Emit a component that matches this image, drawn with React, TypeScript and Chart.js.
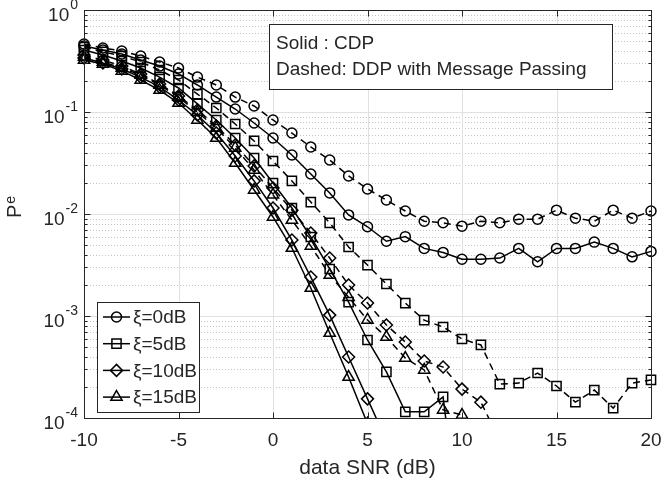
import React, { useEffect, useRef } from "react";
import { Chart, registerables } from "chart.js";

Chart.register(...registerables);

// ---------- data ----------
const snr = [-10, -9, -8, -7, -6, -5, -4, -3, -2, -1, 0, 1, 2, 3, 4, 5, 6, 7, 8, 9, 10, 11, 12, 13, 14, 15, 16, 17, 18, 19, 20];

const cdp0 = [0.444, 0.405, 0.37, 0.323, 0.282, 0.236, 0.184, 0.14, 0.107, 0.078, 0.0556, 0.0379, 0.0247, 0.0161, 0.0098, 0.0075, 0.0054, 0.006, 0.0046, 0.0042, 0.0036, 0.0036, 0.0037, 0.0046, 0.0034, 0.0046, 0.0046, 0.0053, 0.0046, 0.0038, 0.0043];
const ddp0 = [0.464, 0.424, 0.396, 0.354, 0.309, 0.27, 0.22, 0.184, 0.14, 0.1145, 0.0835, 0.0622, 0.0454, 0.0338, 0.0236, 0.0176, 0.0137, 0.0107, 0.0085, 0.0082, 0.0076, 0.0085, 0.0082, 0.0089, 0.0089, 0.0109, 0.0091, 0.0085, 0.0109, 0.0091, 0.0107];
const cdp5 = [0.405, 0.362, 0.316, 0.27, 0.22, 0.172, 0.12, 0.0835, 0.0556, 0.0354, 0.0201, 0.01145, 0.00595, 0.00289, 0.00137, 0.000582, 0.000283, 0.000115, 0.000115, 0.000161, 0.000005];
const ddp5 = [0.434, 0.388, 0.354, 0.309, 0.258, 0.206, 0.15, 0.1095, 0.0763, 0.052, 0.0331, 0.0211, 0.0131, 0.0082, 0.00475, 0.00316, 0.00206, 0.00134, 0.00091, 0.00078, 0.000595, 0.00052, 0.000215, 0.00022, 0.000276, 0.000206, 0.000143, 0.000188, 0.000125, 0.00022, 0.000236];
const cdp10 = [0.338, 0.302, 0.264, 0.22, 0.176, 0.131, 0.0935, 0.0622, 0.037, 0.0211, 0.01145, 0.00556, 0.00241, 0.00102, 0.000396, 0.000154, 0.00006];
const ddp10 = [0.362, 0.323, 0.282, 0.236, 0.188, 0.1435, 0.1046, 0.073, 0.0475, 0.0296, 0.018, 0.0109, 0.00651, 0.0037, 0.00201, 0.00134, 0.000816, 0.000556, 0.000362, 0.000316, 0.000192, 0.000143, 0.00006];
const cdp15 = [0.323, 0.296, 0.253, 0.206, 0.164, 0.1225, 0.0835, 0.0556, 0.0316, 0.0172, 0.00935, 0.00464, 0.00188, 0.000681, 0.000252, 0.000088];
const ddp15 = [0.346, 0.309, 0.27, 0.231, 0.184, 0.14, 0.1, 0.0697, 0.0444, 0.027, 0.0154, 0.00873, 0.00486, 0.00252, 0.00153, 0.000914, 0.000622, 0.000387, 0.000296, 0.00012, 0.000107];

const legendLabels = ["ξ=0dB", "ξ=5dB", "ξ=10dB", "ξ=15dB"];
const markerStyles = ["circle", "rect", "rectRot", "triangle"];
const markerRadii = [5, 6.5, 6, 6.5];
const noteLines = ["Solid : CDP", "Dashed: DDP with Message Passing"];
const xTickValues = [-10, -5, 0, 5, 10, 15, 20];
const yTickExponents = [0, -1, -2, -3, -4];
const yMinorMultipliers = [2, 3, 4, 5, 6, 7, 8, 9];
const xTitle = "data SNR (dB)";
const yTitleMain = "P";
const yTitleScript = "e";

// ---------- styling ----------
const FONT = '"Liberation Sans", Arial, Helvetica, sans-serif';
const AXIS_COLOR = "#262626";
const LINE_COLOR = "#000000";

function toPoints(ys: number[]) {
  return ys.map((y, i) => ({ x: snr[i], y }));
}

function makeDataset(label: string, ys: number[], idx: number, dashed: boolean) {
  return {
    label,
    data: toPoints(ys),
    borderColor: LINE_COLOR,
    borderWidth: 1.5,
    borderDash: dashed ? [7, 5] : [],
    pointStyle: markerStyles[idx],
    pointRadius: markerRadii[idx],
    pointBorderWidth: 1.5,
    pointBorderColor: LINE_COLOR,
    pointBackgroundColor: "rgba(0,0,0,0)",
    fill: false,
    tension: 0,
    clip: { left: 9, top: 9, right: 9, bottom: 0 },
  };
}

function drawMarker(ctx: CanvasRenderingContext2D, style: string, x: number, y: number, r: number) {
  ctx.beginPath();
  if (style === "circle") {
    ctx.arc(x, y, r, 0, Math.PI * 2);
  } else if (style === "rect") {
    const s = r * Math.SQRT1_2;
    ctx.rect(x - s, y - s, 2 * s, 2 * s);
  } else if (style === "rectRot") {
    ctx.moveTo(x, y - r);
    ctx.lineTo(x + r, y);
    ctx.lineTo(x, y + r);
    ctx.lineTo(x - r, y);
    ctx.closePath();
  } else if (style === "triangle") {
    let a = 0;
    ctx.moveTo(x + Math.sin(a) * r, y - Math.cos(a) * r);
    a += (2 * Math.PI) / 3;
    ctx.lineTo(x + Math.sin(a) * r, y - Math.cos(a) * r);
    a += (2 * Math.PI) / 3;
    ctx.lineTo(x + Math.sin(a) * r, y - Math.cos(a) * r);
    ctx.closePath();
  }
  ctx.stroke();
}

const matlabPlugin = {
  id: "matlabLook",
  beforeDraw(chart: any) {
    const ctx = chart.ctx;
    ctx.save();
    ctx.fillStyle = "#ffffff";
    ctx.fillRect(0, 0, chart.width, chart.height);
    ctx.restore();
  },
  beforeDatasetsDraw(chart: any) {
    const ctx: CanvasRenderingContext2D = chart.ctx;
    const { left, right, top, bottom } = chart.chartArea;
    const xs = chart.scales.x;
    const ys = chart.scales.y;
    ctx.save();
    // minor dotted horizontal grid
    ctx.strokeStyle = "#c4c4c4";
    ctx.lineWidth = 1;
    ctx.setLineDash([1, 2]);
    for (const e of yTickExponents) {
      if (e === 0) continue;
      for (const m of yMinorMultipliers) {
        const py = Math.round(ys.getPixelForValue(m * Math.pow(10, e))) + 0.5;
        ctx.beginPath();
        ctx.moveTo(left, py);
        ctx.lineTo(right, py);
        ctx.stroke();
      }
    }
    // major grid
    ctx.setLineDash([]);
    ctx.strokeStyle = "#e1e1e1";
    for (const e of yTickExponents) {
      const py = Math.round(ys.getPixelForValue(Math.pow(10, e))) + 0.5;
      ctx.beginPath();
      ctx.moveTo(left, py);
      ctx.lineTo(right, py);
      ctx.stroke();
    }
    for (const v of xTickValues) {
      const px = Math.round(xs.getPixelForValue(v)) + 0.5;
      ctx.beginPath();
      ctx.moveTo(px, top);
      ctx.lineTo(px, bottom);
      ctx.stroke();
    }
    ctx.restore();
  },
  afterDatasetsDraw(chart: any) {
    const ctx: CanvasRenderingContext2D = chart.ctx;
    const { left, right, top, bottom } = chart.chartArea;
    const xs = chart.scales.x;
    const ys = chart.scales.y;
    ctx.save();
    ctx.strokeStyle = AXIS_COLOR;
    ctx.lineWidth = 1;
    ctx.setLineDash([]);
    const L = Math.round(left) + 0.5;
    const R = Math.round(right) + 0.5;
    const T = Math.round(top) + 0.5;
    const B = Math.round(bottom) + 0.5;
    ctx.strokeRect(L, T, R - L, B - T);

    // tick marks
    ctx.beginPath();
    for (const v of xTickValues) {
      const px = Math.round(xs.getPixelForValue(v)) + 0.5;
      ctx.moveTo(px, B);
      ctx.lineTo(px, B - 6);
      ctx.moveTo(px, T);
      ctx.lineTo(px, T + 6);
    }
    for (const e of yTickExponents) {
      const py = Math.round(ys.getPixelForValue(Math.pow(10, e))) + 0.5;
      ctx.moveTo(L, py);
      ctx.lineTo(L + 6, py);
      ctx.moveTo(R, py);
      ctx.lineTo(R - 6, py);
      if (e === 0) continue;
      for (const m of yMinorMultipliers) {
        const pm = Math.round(ys.getPixelForValue(m * Math.pow(10, e))) + 0.5;
        ctx.moveTo(L, pm);
        ctx.lineTo(L + 3, pm);
        ctx.moveTo(R, pm);
        ctx.lineTo(R - 3, pm);
      }
    }
    ctx.stroke();

    // x tick labels
    ctx.fillStyle = AXIS_COLOR;
    ctx.font = `19px ${FONT}`;
    ctx.textAlign = "center";
    ctx.textBaseline = "alphabetic";
    for (const v of xTickValues) {
      const px = xs.getPixelForValue(v);
      ctx.fillText(String(v), px, bottom + 28);
    }

    // y tick labels 10^e
    for (const e of yTickExponents) {
      const py = ys.getPixelForValue(Math.pow(10, e));
      const expText = String(e);
      ctx.font = `14px ${FONT}`;
      ctx.textAlign = "right";
      const expW = ctx.measureText(expText).width;
      const expRight = left - 6;
      ctx.fillText(expText, expRight, py - 1);
      ctx.font = `19px ${FONT}`;
      ctx.fillText("10", expRight - expW - 1, py + 11);
    }

    // x title
    ctx.font = `21px ${FONT}`;
    ctx.textAlign = "center";
    ctx.textBaseline = "middle";
    ctx.fillText(xTitle, (left + right) / 2, bottom + 50);

    // y title (rotated)
    ctx.save();
    ctx.translate(21, 218);
    ctx.rotate(-Math.PI / 2);
    ctx.textAlign = "left";
    ctx.textBaseline = "alphabetic";
    ctx.font = `20px ${FONT}`;
    ctx.fillText(yTitleMain, 0, 0);
    const pW = ctx.measureText(yTitleMain).width;
    ctx.font = `14px ${FONT}`;
    ctx.fillText(yTitleScript, pW + 1, -6);
    ctx.restore();

    // legend box
    const lx = left + 13;
    const ly = bottom - 116;
    const lw = 102;
    const lh = 110;
    ctx.fillStyle = "#ffffff";
    ctx.fillRect(lx, ly, lw, lh);
    ctx.strokeStyle = AXIS_COLOR;
    ctx.lineWidth = 1;
    ctx.strokeRect(Math.round(lx) + 0.5, Math.round(ly) + 0.5, lw, lh);
    ctx.font = `19px ${FONT}`;
    ctx.textAlign = "left";
    ctx.textBaseline = "middle";
    for (let i = 0; i < legendLabels.length; i++) {
      const cy = ly + 15 + i * 26.7;
      ctx.strokeStyle = LINE_COLOR;
      ctx.lineWidth = 1.5;
      ctx.beginPath();
      ctx.moveTo(lx + 6, cy);
      ctx.lineTo(lx + 33, cy);
      ctx.stroke();
      drawMarker(ctx, markerStyles[i], lx + 19.5, cy, markerRadii[i]);
      ctx.fillStyle = AXIS_COLOR;
      ctx.fillText(legendLabels[i], lx + 36, cy + 1);
    }

    // note box
    const nx = 269;
    const ny = top + 14;
    const nw = 343;
    const nh = 65;
    ctx.fillStyle = "#ffffff";
    ctx.fillRect(nx, ny, nw, nh);
    ctx.strokeStyle = AXIS_COLOR;
    ctx.lineWidth = 1;
    ctx.strokeRect(nx + 0.5, ny + 0.5, nw, nh);
    ctx.fillStyle = AXIS_COLOR;
    ctx.font = `19px ${FONT}`;
    ctx.textAlign = "left";
    ctx.textBaseline = "alphabetic";
    ctx.fillText(noteLines[0], nx + 7, ny + 25);
    ctx.fillText(noteLines[1], nx + 7, ny + 51);

    ctx.restore();
  },
};

export default function App() {
  const canvasRef = useRef<HTMLCanvasElement | null>(null);

  useEffect(() => {
    const canvas = canvasRef.current;
    if (!canvas) return;
    const chart = new Chart(canvas, {
      type: "line",
      data: {
        datasets: [
          makeDataset("CDP ξ=0dB", cdp0, 0, false),
          makeDataset("DDP ξ=0dB", ddp0, 0, true),
          makeDataset("CDP ξ=5dB", cdp5, 1, false),
          makeDataset("DDP ξ=5dB", ddp5, 1, true),
          makeDataset("CDP ξ=10dB", cdp10, 2, false),
          makeDataset("DDP ξ=10dB", ddp10, 2, true),
          makeDataset("CDP ξ=15dB", cdp15, 3, false),
          makeDataset("DDP ξ=15dB", ddp15, 3, true),
        ] as any,
      },
      options: {
        animation: false,
        responsive: false,
        devicePixelRatio: 1,
        layout: { padding: { top: 10, right: 10, left: 0, bottom: 0 } },
        plugins: {
          legend: { display: false },
          tooltip: { enabled: false },
        },
        events: [],
        scales: {
          x: {
            type: "linear",
            min: -10,
            max: 20,
            grid: { display: false, drawTicks: false },
            border: { display: false },
            ticks: { display: false },
            afterFit: (s: any) => {
              s.height = 66;
            },
          },
          y: {
            type: "logarithmic",
            min: 1e-4,
            max: 1,
            grid: { display: false, drawTicks: false },
            border: { display: false },
            ticks: { display: false },
            afterFit: (s: any) => {
              s.width = 84;
            },
          },
        },
      } as any,
      plugins: [matlabPlugin],
    });
    return () => chart.destroy();
  }, []);

  return (
    <div style={{ position: "fixed", left: 0, top: 0, width: 661, height: 484, background: "#fff" }}>
      <canvas ref={canvasRef} width={661} height={484} style={{ display: "block", width: 661, height: 484 }} />
    </div>
  );
}
